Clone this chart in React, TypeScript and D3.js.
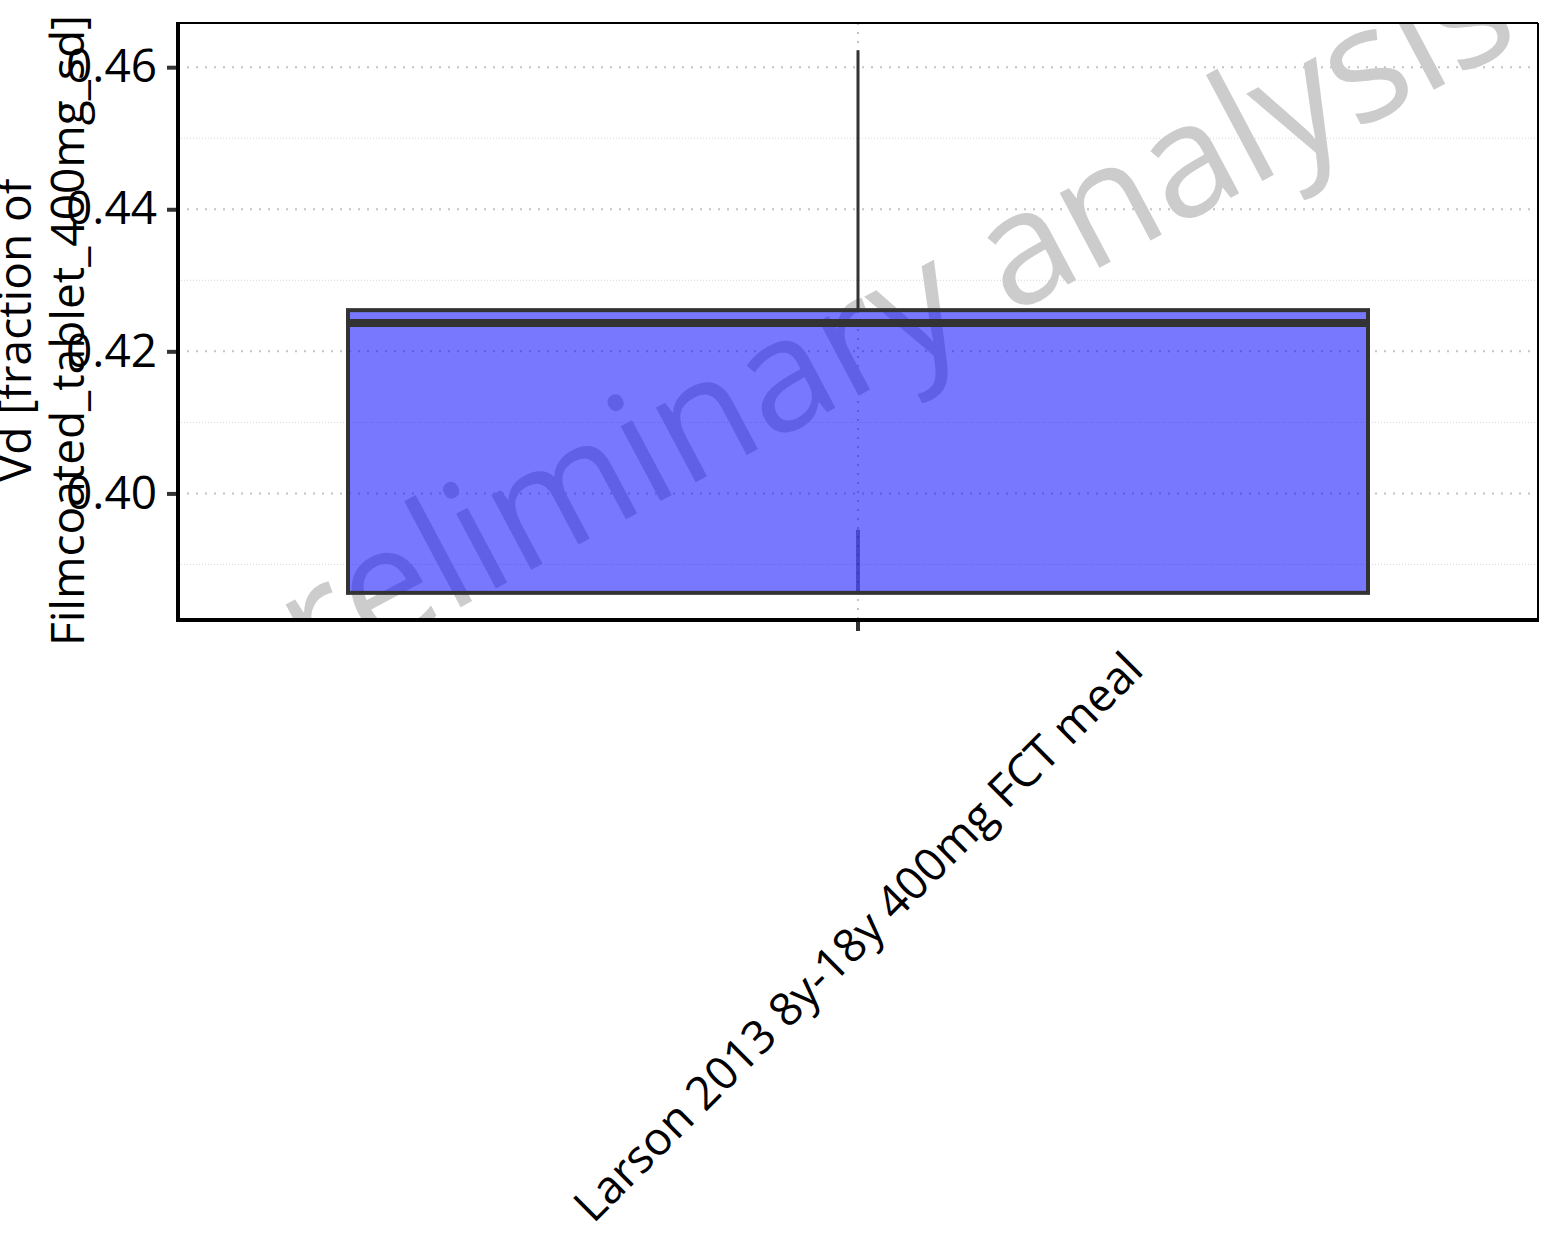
import React, { useEffect, useRef } from 'react';
import * as d3 from 'd3';

const categories = ['Larson 2013 8y-18y 400mg FCT meal'];
const whiskerLow = [0.3949];
const boxLow = [0.386];
const medians = [0.424];
const boxHigh = [0.4258];
const whiskerHigh = [0.4624];
const yTicks = [0.40, 0.42, 0.44, 0.46];
const yMinorTicks = [0.39, 0.41, 0.43, 0.45];
const yLabelLines = ['Vd [fraction of', 'Filmcoated_tablet_400mg_sd]'];
const watermarkText = 'preliminary analysis';

const App = () => {
  const svgRef = useRef<SVGSVGElement>(null);

  useEffect(() => {
    const W = 1562;
    const H = 1249;
    const margin = { top: 23, right: 24, bottom: 629, left: 178 };
    const left = margin.left;
    const right = W - margin.right;
    const top = margin.top;
    const bottom = H - margin.bottom;
    const font = '"Open Sans", "Noto Sans", sans-serif';
    const fontSize = '46px';

    const svg = d3.select(svgRef.current);
    svg.selectAll('*').remove();
    svg.attr('width', W).attr('height', H);

    svg.append('rect').attr('width', W).attr('height', H).attr('fill', 'white');

    // y range expanded by 5% like ggplot
    const lo = d3.min([...whiskerLow, ...boxLow]) as number;
    const hi = d3.max([...whiskerHigh, ...boxHigh]) as number;
    const pad = (hi - lo) * 0.05;

    const x = d3.scaleBand().domain(categories).range([left, right]).padding(0);
    const y = d3.scaleLinear().domain([lo - pad, hi + pad]).range([bottom, top]);

    svg.append('defs')
      .append('clipPath')
      .attr('id', 'panel-clip')
      .append('rect')
      .attr('x', left)
      .attr('y', top)
      .attr('width', right - left)
      .attr('height', bottom - top);

    const panel = svg.append('g').attr('clip-path', 'url(#panel-clip)');

    // minor grid
    panel.selectAll('line.minor')
      .data(yMinorTicks)
      .join('line')
      .attr('x1', left).attr('x2', right)
      .attr('y1', d => y(d)).attr('y2', d => y(d))
      .attr('stroke', '#d6d6d6')
      .attr('stroke-width', 1)
      .attr('stroke-dasharray', '1,2');

    // major grid
    panel.selectAll('line.major')
      .data(yTicks)
      .join('line')
      .attr('x1', left).attr('x2', right)
      .attr('y1', d => y(d)).attr('y2', d => y(d))
      .attr('stroke', '#c4c4c4')
      .attr('stroke-width', 2)
      .attr('stroke-dasharray', '2,7');

    panel.selectAll('line.vgrid')
      .data(categories)
      .join('line')
      .attr('x1', d => (x(d) as number) + x.bandwidth() / 2)
      .attr('x2', d => (x(d) as number) + x.bandwidth() / 2)
      .attr('y1', top).attr('y2', bottom)
      .attr('stroke', '#c4c4c4')
      .attr('stroke-width', 2)
      .attr('stroke-dasharray', '2,7');

    // watermark
    panel.append('text')
      .attr('transform', `translate(${(left + right) / 2 - 8},${(top + bottom) / 2 + 16}) rotate(-28)`)
      .attr('text-anchor', 'middle')
      .attr('dy', '0.35em')
      .style('font-family', font)
      .style('font-size', '158px')
      .attr('fill', '#cccccc')
      .text(watermarkText);

    // boxes
    const boxW = x.bandwidth() * 0.75;
    categories.forEach((c, i) => {
      const cx = (x(c) as number) + x.bandwidth() / 2;
      // whiskers first, box drawn over them with transparency
      panel.append('line')
        .attr('x1', cx).attr('x2', cx)
        .attr('y1', y(boxHigh[i])).attr('y2', y(whiskerHigh[i]))
        .attr('stroke', '#333333').attr('stroke-width', 3);
      panel.append('line')
        .attr('x1', cx).attr('x2', cx)
        .attr('y1', y(boxLow[i])).attr('y2', y(whiskerLow[i]))
        .attr('stroke', '#333333').attr('stroke-opacity', 0.5).attr('stroke-width', 4);

      panel.append('rect')
        .attr('x', cx - boxW / 2)
        .attr('y', y(boxHigh[i]))
        .attr('width', boxW)
        .attr('height', y(boxLow[i]) - y(boxHigh[i]))
        .attr('fill', '#0000ff')
        .attr('fill-opacity', 0.53)
        .attr('stroke', '#333333')
        .attr('stroke-width', 4);

      panel.append('line')
        .attr('x1', cx - boxW / 2).attr('x2', cx + boxW / 2)
        .attr('y1', y(medians[i])).attr('y2', y(medians[i]))
        .attr('stroke', '#333333').attr('stroke-width', 8);
    });

    // panel border
    svg.append('line').attr('x1', left).attr('x2', right).attr('y1', top).attr('y2', top)
      .attr('stroke', 'black').attr('stroke-width', 2);
    svg.append('line').attr('x1', right).attr('x2', right).attr('y1', top).attr('y2', bottom)
      .attr('stroke', 'black').attr('stroke-width', 2);

    // y axis
    const yAxis = svg.append('g')
      .attr('transform', `translate(${left},0)`)
      .call(d3.axisLeft(y).tickValues(yTicks).tickFormat(d3.format('.2f')).tickSize(11).tickSizeOuter(0).tickPadding(10));
    yAxis.select('.domain').remove();
    yAxis.selectAll('.tick line').attr('stroke', '#333333').attr('stroke-width', 4);
    yAxis.selectAll('.tick text')
      .attr('fill', 'black')
      .style('font-family', font)
      .style('font-size', fontSize);

    // x axis
    const xAxis = svg.append('g')
      .attr('transform', `translate(0,${bottom})`)
      .call(d3.axisBottom(x).tickSize(11).tickSizeOuter(0));
    xAxis.select('.domain').remove();
    xAxis.selectAll('.tick line').attr('stroke', '#333333').attr('stroke-width', 4);
    xAxis.selectAll('.tick text')
      .attr('transform', 'translate(0,317) rotate(-45)')
      .attr('y', 0)
      .attr('dy', '0.35em')
      .attr('text-anchor', 'middle')
      .attr('fill', 'black')
      .style('font-family', font)
      .style('font-size', fontSize);

    // axis lines
    svg.append('line').attr('x1', left).attr('x2', left).attr('y1', top - 1).attr('y2', bottom + 2)
      .attr('stroke', 'black').attr('stroke-width', 4);
    svg.append('line').attr('x1', left - 2).attr('x2', right + 1).attr('y1', bottom).attr('y2', bottom)
      .attr('stroke', 'black').attr('stroke-width', 4);

    // y axis title
    const yTitle = svg.append('text')
      .attr('transform', `translate(0,${(top + bottom) / 2 + 9}) rotate(-90)`)
      .attr('text-anchor', 'middle')
      .attr('fill', 'black')
      .style('font-family', font)
      .style('font-size', fontSize);
    yLabelLines.forEach((t, i) => {
      yTitle.append('tspan')
        .attr('x', 0)
        .attr('y', 31 + i * 53)
        .text(t);
    });
  }, []);

  return (
    <svg ref={svgRef} style={{ position: 'absolute', left: 0, top: 0, display: 'block' }}></svg>
  );
};

export default App;
